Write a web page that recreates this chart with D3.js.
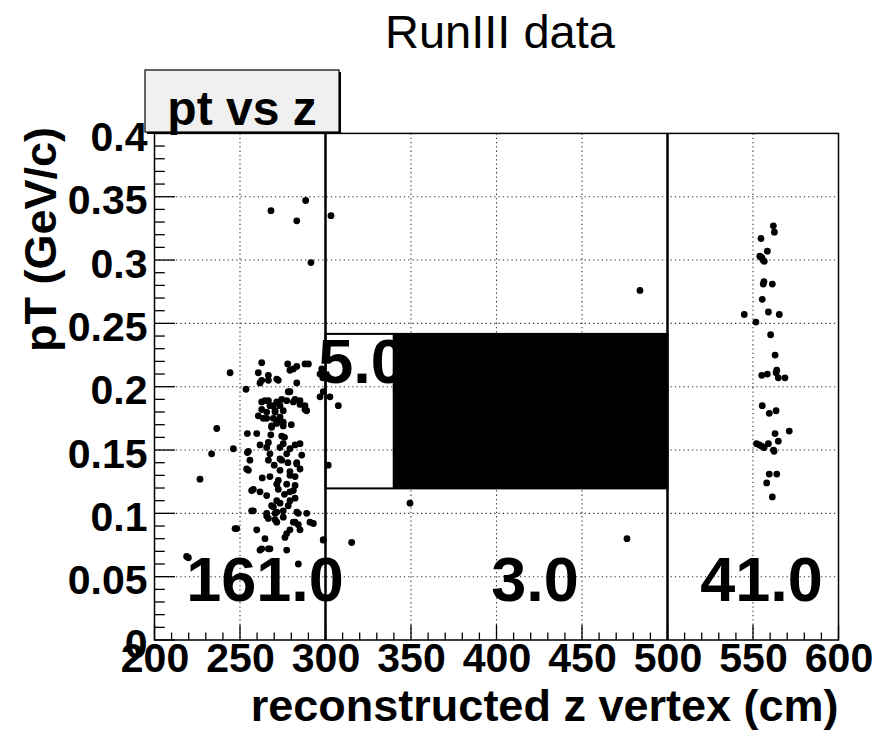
<!DOCTYPE html>
<html>
<head>
<meta charset="utf-8">
<script src="https://cdn.jsdelivr.net/npm/d3@7"></script>
<style>
  html, body { margin: 0; padding: 0; background: #fff; }
  svg { display: block; }
  text { font-family: "Liberation Sans", Arial, Helvetica, sans-serif; }
</style>
</head>
<body>
<svg id="chart" width="878" height="733"></svg>
<script>
// ---------------- DATA ----------------
const title = "RunIII data";
const histName = "pt vs z";
const xTitle = "reconstructed z vertex (cm)";
const yTitle = "pT (GeV/c)";

const xDomain = [200, 600];
const yDomain = [0, 0.4];
const xTickValues = [200, 250, 300, 350, 400, 450, 500, 550, 600];
const yTickValues = [0, 0.05, 0.1, 0.15, 0.2, 0.25, 0.3, 0.35, 0.4];
const yTickLabels = ["0", "0.05", "0.1", "0.15", "0.2", "0.25", "0.3", "0.35", "0.4"];

// left cluster (z, pT)
const zLeft = [244.2,262.7,260.7,261.7,266.6,271.5,277.9,281.2,288.0,290.0,283.2,253.5,297.8,298.4,298.7,302.6,307.5,296.8,278.2,277.3,
  281.2,285.1,288.0,289.0,264.6,262.7,267.5,271.5,260.7,265.6,270.5,273.4,268.5,275.3,271.5,236.4,254.3,259.8,246.1,233.4,
  226.6,254.3,261.7,265.6,267.5,273.4,277.3,285.1,286.1,255.8,254.9,266.6,274.4,283.2,273.4,279.2,267.5,282.2,271.5,277.3,
  256.8,261.7,265.6,281.2,279.2,273.4,269.5,256.8,265.6,270.5,275.3,283.2,289.0,292.9,301.6,247.1,259.8,270.5,277.3,282.2,
  285.1,264.6,261.7,267.5,277.3,298.7,315.3,219.8,284.1,288.4,268.1,283.2,303.2,291.5,268.5,275.3,254.9,266.6,274.4,275.3,
  279.2,282.2,273.4,253.9,283.2,285.1,272.4,279.2,282.2,257.8,272.4,279.2,282.2,271.5,278.2,257.8,268.5,265.6,271.5,275.3,
  284.1,281.2,290.9,266.6,272.4,279.2,283.2,296.8,279.2,274.4,282.2,285.1,288.0,262.7,266.6,269.5,273.4,265.6,270.5,275.3,
  263.6,269.5,271.5,262.7,266.6,271.5,248.1,279.2,284.1,276.3,266.6,262.7,218.8,298.7,276.0,270.0,278.0,268.0,280.0,263.0,276.0];
const ptLeft = [0.211,0.219,0.211,0.203,0.205,0.206,0.218,0.214,0.218,0.218,0.203,0.198,0.214,0.207,0.196,0.192,0.185,0.192,0.196,0.189,
  0.188,0.189,0.185,0.181,0.189,0.182,0.185,0.188,0.177,0.175,0.181,0.176,0.168,0.172,0.173,0.167,0.163,0.163,0.151,0.147,
  0.127,0.148,0.154,0.152,0.147,0.152,0.147,0.155,0.146,0.142,0.134,0.142,0.142,0.139,0.134,0.133,0.129,0.129,0.123,0.123,
  0.118,0.117,0.114,0.118,0.110,0.108,0.105,0.102,0.100,0.100,0.102,0.101,0.100,0.092,0.138,0.088,0.087,0.095,0.084,0.093,
  0.087,0.080,0.071,0.072,0.071,0.079,0.077,0.065,0.060,0.347,0.339,0.331,0.335,0.298,0.169,0.169,0.149,0.156,0.161,0.155,
  0.151,0.154,0.143,0.135,0.140,0.135,0.126,0.130,0.122,0.119,0.119,0.117,0.112,0.110,0.106,0.102,0.106,0.098,0.101,0.097,
  0.100,0.093,0.093,0.209,0.205,0.213,0.216,0.210,0.196,0.190,0.190,0.186,0.182,0.188,0.189,0.185,0.185,0.180,0.180,0.181,
  0.175,0.175,0.171,0.205,0.096,0.093,0.088,0.087,0.091,0.081,0.072,0.072,0.066,0.079,0.160,0.138,0.140,0.162,0.170,0.128,0.115];

// sparse middle region
const zMid = [349.4, 476.3, 483.9];
const ptMid = [0.108, 0.080, 0.276];

// right cluster
const zRight = [561.9,562.5,554.7,558.4,555.1,556.6,556.0,561.3,555.4,559.0,565.4,544.9,551.7,560.3,562.9,555.1,558.4,563.9,564.8,568.7,
  555.4,559.5,563.5,562.9,571.2,552.1,555.1,559.0,562.3,564.8,559.5,563.9,558.0,561.3,553.7,556.5,555.8,563.5,556.4,562.0,554.0];
const ptRight = [0.327,0.322,0.317,0.307,0.302,0.299,0.281,0.281,0.269,0.259,0.257,0.257,0.251,0.241,0.225,0.209,0.210,0.213,0.207,0.207,
  0.185,0.179,0.181,0.163,0.165,0.155,0.153,0.155,0.149,0.157,0.131,0.131,0.124,0.113,0.154,0.152,0.300,0.211,0.283,0.150,0.303];

// bin-content labels
const binText = ["161.0", "3.0", "41.0", "5.0"];
const binZ = [264.6, 422.5, 555.0, 321.4];
const binPt = [0.031, 0.031, 0.031, 0.203];

// cut lines / region box
const cutZ = [300, 500];
const boxPt = [0.1197, 0.2417];
const boxFillZ = [339.3, 500];

// ---------------- LAYOUT ----------------
const svg = d3.select("#chart");
const L = 154.5, R = 838.5, T = 133.4, B = 640;
const x = d3.scaleLinear().domain(xDomain).range([L, R]);
const y = d3.scaleLinear().domain(yDomain).range([B, T]);

svg.append("rect").attr("width", 878).attr("height", 733).attr("fill", "#fff");

// grid (dotted)
const grid = svg.append("g").attr("stroke", "#333").attr("stroke-width", 1.1).attr("stroke-dasharray", "1.3,3");
grid.selectAll("line.gx").data(xTickValues.filter(v => v > xDomain[0] && v < xDomain[1]))
  .join("line").attr("x1", d => x(d)).attr("x2", d => x(d)).attr("y1", T).attr("y2", B);
grid.selectAll("line.gy").data(yTickValues.filter(v => v > yDomain[0] && v < yDomain[1]))
  .join("line").attr("x1", L).attr("x2", R).attr("y1", d => y(d)).attr("y2", d => y(d));

// black fill region + box
svg.append("rect")
  .attr("x", x(boxFillZ[0])).attr("y", y(boxPt[1]))
  .attr("width", x(boxFillZ[1]) - x(boxFillZ[0])).attr("height", y(boxPt[0]) - y(boxPt[1]))
  .attr("fill", "#000");
svg.append("rect")
  .attr("x", x(cutZ[0])).attr("y", y(boxPt[1]))
  .attr("width", x(cutZ[1]) - x(cutZ[0])).attr("height", y(boxPt[0]) - y(boxPt[1]))
  .attr("fill", "none").attr("stroke", "#000").attr("stroke-width", 2);

// vertical cut lines
svg.selectAll("line.cut").data(cutZ).join("line")
  .attr("x1", d => x(d)).attr("x2", d => x(d)).attr("y1", T).attr("y2", B)
  .attr("stroke", "#000").attr("stroke-width", 2.5);

// points
const pts = [];
zLeft.forEach((z, i) => pts.push([z, ptLeft[i]]));
zMid.forEach((z, i) => pts.push([z, ptMid[i]]));
zRight.forEach((z, i) => pts.push([z, ptRight[i]]));
svg.append("g").selectAll("circle").data(pts).join("circle")
  .attr("cx", d => x(d[0])).attr("cy", d => y(d[1])).attr("r", 3.4).attr("fill", "#000");

// bin text
svg.append("g").selectAll("text").data(binText).join("text")
  .attr("x", (d, i) => x(binZ[i])).attr("y", (d, i) => y(binPt[i]))
  .attr("text-anchor", "middle").attr("font-size", 63).attr("font-weight", "bold")
  .attr("fill", "#000").text(d => d);

// frame
svg.append("rect").attr("x", L).attr("y", T).attr("width", R - L).attr("height", B - T)
  .attr("fill", "none").attr("stroke", "#000").attr("stroke-width", 1.5);

// tick marks (major every 50 / 0.05, minor every 10 / 0.01)
const xMinor = d3.range(200, 601, 10);
const yMinor = d3.range(0, 41).map(v => v / 100);
svg.append("g").selectAll("line.xt").data(xMinor).join("line")
  .attr("x1", d => x(d)).attr("x2", d => x(d)).attr("y1", B)
  .attr("y2", d => B - (d % 50 === 0 ? 15 : 7.5))
  .attr("stroke", "#000").attr("stroke-width", 1.3);
svg.append("g").selectAll("line.yt").data(yMinor).join("line")
  .attr("y1", d => y(d)).attr("y2", d => y(d)).attr("x1", L)
  .attr("x2", d => L + (Math.round(d * 100) % 5 === 0 ? 20.5 : 10.3))
  .attr("stroke", "#000").attr("stroke-width", 1.3);

// tick labels via d3 axes (lines hidden)
const gx = svg.append("g").attr("transform", `translate(0,${B})`)
  .call(d3.axisBottom(x).tickValues(xTickValues).tickSize(0).tickPadding(0).tickFormat(d3.format("d")));
gx.select(".domain").remove();
gx.selectAll("text").attr("font-size", 41).attr("font-weight", "bold").attr("fill", "#000")
  .attr("font-family", "'Liberation Sans', Arial, sans-serif").attr("dy", null).attr("y", 32);

const gy = svg.append("g").attr("transform", `translate(${L},0)`)
  .call(d3.axisLeft(y).tickValues(yTickValues).tickSize(0).tickPadding(0).tickFormat((d, i) => yTickLabels[i]));
gy.select(".domain").remove();
gy.selectAll("text").attr("font-size", 41).attr("font-weight", "bold").attr("fill", "#000")
  .attr("font-family", "'Liberation Sans', Arial, sans-serif").attr("x", -7).attr("dy", "0.42em");

// axis titles
svg.append("text").attr("x", R).attr("y", 721).attr("text-anchor", "end")
  .attr("font-size", 45).attr("font-weight", "bold").text(xTitle);
svg.append("text").attr("transform", `translate(56,127) rotate(-90)`).attr("text-anchor", "end")
  .attr("font-size", 45).attr("font-weight", "bold").text(yTitle);

// title
svg.append("text").attr("x", 500).attr("y", 48).attr("text-anchor", "middle")
  .attr("font-size", 47).text(title);

// histogram title pave
svg.append("rect").attr("x", 147).attr("y", 72).attr("width", 194).attr("height", 62).attr("fill", "#000");
svg.append("rect").attr("x", 145).attr("y", 70).attr("width", 194).attr("height", 62)
  .attr("fill", "#f0f0f0").attr("stroke", "#000").attr("stroke-width", 1.2);
svg.append("text").attr("x", 242).attr("y", 125).attr("text-anchor", "middle")
  .attr("font-size", 48).attr("font-weight", "bold").text(histName);
</script>
</body>
</html>
